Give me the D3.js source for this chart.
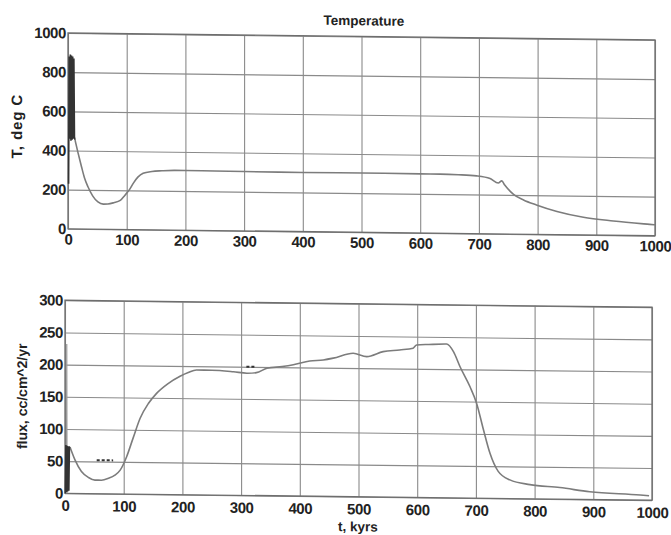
<!DOCTYPE html>
<html>
<head>
<meta charset="utf-8">
<script src="https://cdn.jsdelivr.net/npm/d3@7"></script>
<style>
  body { margin: 0; background: #fff; }
  svg text { font-family: "Liberation Sans", Arial, sans-serif; font-weight: bold; fill: #222; }
</style>
</head>
<body>
<div id="chart"></div>
<script>
// x axis, kyrs
const xTicks = [0, 100, 200, 300, 400, 500, 600, 700, 800, 900, 1000];
const tempTicks = [0, 200, 400, 600, 800, 1000];
const fluxTicks = [0, 50, 100, 150, 200, 250, 300];

// temperature, deg C
const tempT = [12, 17, 23, 28, 34, 42, 51, 60, 68, 78, 89, 97, 105, 112, 119, 128, 143, 160, 182, 200, 250, 300, 400, 500, 600, 634, 665, 696, 719, 733, 739, 744, 759, 776, 798, 833, 878, 929, 991, 1000];
const tempV = [454, 390, 318, 262, 216, 170, 139, 128, 129, 136, 148, 175, 205, 240, 268, 288, 298, 302, 305, 305, 304, 303, 302, 303, 302, 302, 300, 295, 282, 260, 271, 250, 203, 175, 150, 118, 90, 73, 58, 56];
// early oscillation (dark band)
const tempOscT = [1, 2, 3, 4, 5, 6, 7, 8, 9, 10, 11, 12];
const tempOscV = [230, 880, 460, 890, 450, 885, 455, 880, 460, 870, 470, 455];

// flux, cc/cm^2/yr
const fluxT = [8.5, 17, 28, 40, 51, 62, 74, 85, 94, 105, 116, 128, 142, 156, 175, 196, 210, 224, 250, 287, 310, 326, 344, 370, 389, 417, 440, 457, 491, 514, 542, 570, 593, 599, 620, 650, 662, 673, 690, 701, 713, 724, 738, 758, 792, 843, 894, 980, 995];
const fluxV = [72, 52, 34, 25, 21, 21, 24, 29, 37, 58, 87, 118, 141, 157, 172, 184, 190, 194, 194, 192, 190, 191, 198, 201, 204, 210, 212, 215, 223, 218, 226, 229, 232, 237, 238, 239, 227, 204, 173, 148, 106, 70, 42, 29, 22, 18, 12, 8, 7];
const fluxOscT = [0.5, 1.5, 2.5, 3.5, 4.5, 5.5, 6.5, 7.5, 8.5];
const fluxOscV = [0, 75, 2, 74, 3, 73, 4, 72, 72];
const fluxSpikeT = [2.5, 3, 3.5];
const fluxSpikeV = [0, 232, 0];
// short dark marks on the flux curve
const markA_T = [54, 82], markA_V = [52, 52];
const markB_T = [309, 326], markB_V = [200, 200];

const svg = d3.select("#chart").append("svg")
    .attr("width", 671)
    .attr("height", 535);

// the scan is slightly tilted
const root = svg.append("g").attr("transform", "skewY(0.68)");

function panel(box, yDomain, yTicks) {
    const g = root.append("g");
    const x = d3.scaleLinear().domain([0, 1000]).range([box.left, box.right]);
    const y = d3.scaleLinear().domain(yDomain).range([box.bottom, box.top]);

    // grid
    g.append("g")
        .attr("transform", `translate(0,${box.bottom})`)
        .call(d3.axisBottom(x).tickValues(xTicks).tickSize(-(box.bottom - box.top)).tickFormat(d3.format("d")).tickPadding(box.xpad))
        .call(a => a.select(".domain").remove())
        .call(a => a.selectAll("line").attr("stroke", "#8a8a8a").attr("stroke-width", 1.1))
        .call(a => a.selectAll("text").attr("font-size", 15).attr("fill", "#222").attr("letter-spacing", -0.4));

    g.append("g")
        .attr("transform", `translate(${box.left},0)`)
        .call(d3.axisLeft(y).tickValues(yTicks).tickSize(-(box.right - box.left)).tickFormat(d3.format("d")).tickPadding(2))
        .call(a => a.select(".domain").remove())
        .call(a => a.selectAll("line").attr("stroke", "#8a8a8a").attr("stroke-width", 1.1))
        .call(a => a.selectAll("text").attr("font-size", 15).attr("fill", "#222").attr("letter-spacing", -0.4));

    g.append("rect")
        .attr("x", box.left).attr("y", box.top)
        .attr("width", box.right - box.left).attr("height", box.bottom - box.top)
        .attr("fill", "none").attr("stroke", "#6e6e6e").attr("stroke-width", 1.3);

    return {g, x, y};
}

function draw(p, ts, vs, color, width, curve, dash) {
    const pts = ts.map((t, i) => [t, vs[i]]);
    p.g.append("path")
        .datum(pts)
        .attr("fill", "none")
        .attr("stroke", color)
        .attr("stroke-width", width)
        .attr("stroke-dasharray", dash || null)
        .attr("d", d3.line().x(d => p.x(d[0])).y(d => p.y(d[1])).curve(curve));
}

// top: temperature
const tempPanel = panel({left: 68, right: 655, top: 32.2, bottom: 228, xpad: 5}, [0, 1000], tempTicks);
draw(tempPanel, tempT, tempV, "#7c7c7c", 1.6, d3.curveMonotoneX);
draw(tempPanel, tempOscT, tempOscV, "#333", 1.6, d3.curveLinear);

tempPanel.g.append("text")
    .attr("x", 364).attr("y", 21)
    .attr("text-anchor", "middle")
    .attr("font-size", 13.5)
    .text("Temperature");

tempPanel.g.append("text")
    .attr("transform", "translate(22,126) rotate(-90)")
    .attr("text-anchor", "middle")
    .attr("font-size", 15)
    .attr("letter-spacing", 0.9)
    .text("T, deg C");

// bottom: flux
const fluxPanel = panel({left: 65, right: 652, top: 299.5, bottom: 492.5, xpad: 7}, [0, 300], fluxTicks);
draw(fluxPanel, fluxSpikeT, fluxSpikeV, "#9a9a9a", 1.2, d3.curveLinear);
draw(fluxPanel, fluxT, fluxV, "#7c7c7c", 1.6, d3.curveMonotoneX);
draw(fluxPanel, fluxOscT, fluxOscV, "#333", 1.6, d3.curveLinear);
draw(fluxPanel, markA_T, markA_V, "#333", 2, d3.curveLinear, "3,2");
draw(fluxPanel, markB_T, markB_V, "#333", 2, d3.curveLinear, "3,2");

fluxPanel.g.append("text")
    .attr("transform", "translate(27,396) rotate(-90)")
    .attr("text-anchor", "middle")
    .attr("font-size", 14)
    .text("flux, cc/cm^2/yr");

fluxPanel.g.append("text")
    .attr("x", 358).attr("y", 527)
    .attr("text-anchor", "middle")
    .attr("font-size", 13.5)
    .text("t, kyrs");
</script>
</body>
</html>
